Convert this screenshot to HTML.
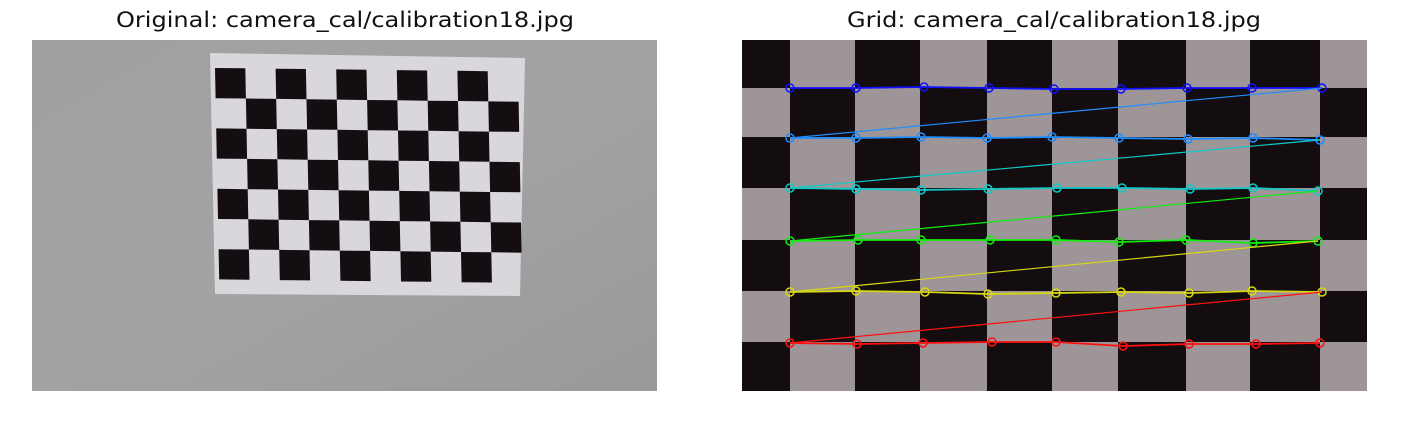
<!DOCTYPE html>
<html><head><meta charset="utf-8"><style>
html,body{margin:0;padding:0;background:#fff;}
svg{display:block;}
text{font-family:"DejaVu Sans","Liberation Sans",sans-serif;font-size:21px;fill:#111;}
</style></head><body>
<svg id="fig" width="1406" height="430" viewBox="0 0 1406 430">
<defs>
<linearGradient id="wall" x1="0" y1="0" x2="1" y2="1">
<stop offset="0" stop-color="#a0a0a0"/><stop offset="0.5" stop-color="#a3a3a3"/><stop offset="1" stop-color="#999999"/>
</linearGradient>
</defs>
<text x="345" y="27" text-anchor="middle" textLength="458" lengthAdjust="spacingAndGlyphs">Original: camera_cal/calibration18.jpg</text>
<text x="1054" y="27" text-anchor="middle" textLength="414" lengthAdjust="spacingAndGlyphs">Grid: camera_cal/calibration18.jpg</text>
<g id="left">
<rect x="32" y="40" width="625" height="351" fill="url(#wall)"/>
<polygon points="210,53 525,58 520,296 215,294" fill="#d9d7dc"/>
<g id="leftBoard"></g>
</g>
<g id="right">
<rect x="742" y="40" width="625" height="351" fill="#9d9597"/>
<g id="rightBoard"></g>
<g id="corners"></g>
</g>
</svg>
<script>
// Detected corner coordinates (display pixels of the grid panel)
const rowColors = ["#1010ff","#1f8cff","#10c8c8","#10ee10","#d8d810","#ff1010"];
const cornerX = [
 [790,856,924,989,1054,1121,1187,1252,1322],
 [790,856,921,987,1052,1119,1188,1253,1320],
 [790,856,921,988,1057,1122,1190,1253,1318],
 [790,858,921,990,1056,1119,1186,1253,1318],
 [790,856,925,988,1056,1121,1189,1252,1322],
 [790,857,923,992,1056,1123,1189,1256,1320]
];
const cornerY = [
 [88,88,87,88,89,89,88,88,88],
 [138,138,137,138,137,138,139,138,140],
 [188,189,190,189,188,188,189,188,191],
 [241,240,240,240,240,242,240,243,241],
 [292,291,292,294,293,292,293,291,292],
 [343,344,343,342,342,346,344,344,343]
];
const colEdges = [742,790,855,920,987,1052,1118,1186,1250,1320,1367];
const rowEdges = [40,88,137,188,240,291,342,391];
const leftCols = 10, leftRows = 7;

const NS="http://www.w3.org/2000/svg";
function mk(t,a){const e=document.createElementNS(NS,t);for(const k in a)e.setAttribute(k,a[k]);return e;}

const rb=document.getElementById('rightBoard');
for(let r=0;r<rowEdges.length-1;r++)for(let c=0;c<colEdges.length-1;c++){
  if((r+c)%2===0){
    const e=mk('rect',{x:colEdges[c],y:rowEdges[r],width:colEdges[c+1]-colEdges[c],height:rowEdges[r+1]-rowEdges[r],fill:'#130d10'});
    
    
    rb.appendChild(e);
  }
}
const lb=document.getElementById('leftBoard');
function lx(c,r){return 215+c*30.3+r*0.6;}
function ly(c,r){return 68+r*30.2+c*0.35;}
for(let r=0;r<leftRows;r++)for(let c=0;c<leftCols;c++){
  if((r+c)%2===0){
    const p=[[c,r],[c+1,r],[c+1,r+1],[c,r+1]].map(q=>lx(q[0],q[1]).toFixed(1)+','+ly(q[0],q[1]).toFixed(1)).join(' ');
    const e=mk('polygon',{points:p,fill:'#140e12'});
    
    
    lb.appendChild(e);
  }
}
const cg=document.getElementById('corners');
for(let r=0;r<cornerX.length;r++){
  const pts=cornerX[r].map((x,i)=>x+','+cornerY[r][i]);
  if(r>0){
    const n=cornerX[r-1].length-1;
    const d=mk('line',{x1:cornerX[r-1][n],y1:cornerY[r-1][n],x2:cornerX[r][0],y2:cornerY[r][0],stroke:rowColors[r],'stroke-width':1.2});
    
    
    cg.appendChild(d);
  }
  const pl=mk('polyline',{points:pts.join(' '),fill:'none',stroke:rowColors[r],'stroke-width':1.8});
  
  
  cg.appendChild(pl);
  cornerX[r].forEach((x,i)=>{
    const c=mk('circle',{cx:x,cy:cornerY[r][i],r:4,fill:'none',stroke:rowColors[r],'stroke-width':1.5});
    
    
    cg.appendChild(c);
  });
}
</script>
</body></html>
